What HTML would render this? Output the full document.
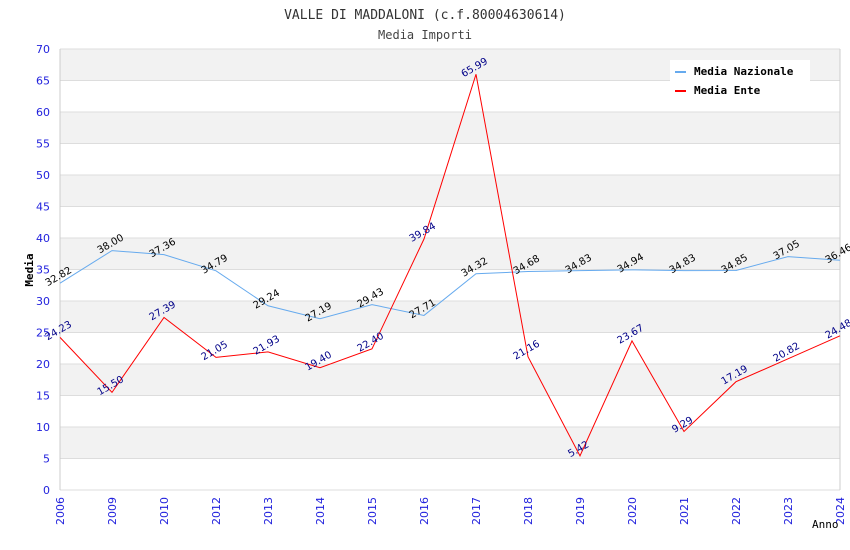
<!DOCTYPE html>
<html><head><meta charset="utf-8"><style>
body{margin:0;background:#fff;}
svg{display:block;font-family:"DejaVu Sans Mono","Liberation Mono",monospace;}
.t{font-family:"DejaVu Sans","Liberation Sans",sans-serif;font-size:11px;}
.v{font-family:"DejaVu Sans","Liberation Sans",sans-serif;font-size:10px;}
</style></head><body>
<svg id="c" width="850" height="550">
<text x="425" y="19" text-anchor="middle" font-size="13" fill="#333">VALLE DI MADDALONI (c.f.80004630614)</text>
<text x="425" y="39" text-anchor="middle" font-size="12" fill="#444">Media Importi</text>
<g id="grid"></g>
<g id="axes"></g>
<g id="series"></g>
<text x="33" y="270" transform="rotate(-90 33 270)" text-anchor="middle" font-size="11" font-weight="bold" fill="#000">Media</text>
<text x="812" y="528" font-size="11" fill="#000">Anno</text>
<g>
<rect x="670" y="60" width="140" height="42" fill="#fff"/>
<g><rect x="675" y="71" width="11" height="2" fill="#66aaee"/><text x="694" y="75" font-size="11" font-weight="bold">Media Nazionale</text></g>
<g><rect x="675" y="90" width="11" height="2" fill="#ff0000"/><text x="694" y="94" font-size="11" font-weight="bold">Media Ente</text></g>
</g>
</svg>
<script>
const years=["2006","2009","2010","2012","2013","2014","2015","2016","2017","2018","2019","2020","2021","2022","2023","2024"];
const nazionale=[32.82,38.00,37.36,34.79,29.24,27.19,29.43,27.71,34.32,34.68,34.83,34.94,34.83,34.85,37.05,36.46];
const ente=[24.23,15.50,27.39,21.05,21.93,19.40,22.40,39.84,65.99,21.16,5.42,23.67,9.29,17.19,20.82,24.48];
const yTicks=[0,5,10,15,20,25,30,35,40,45,50,55,60,65,70];
const X0=60,X1=840,Y0=490,Y1=49,YMAX=70;
const NS="http://www.w3.org/2000/svg";
const x=i=>X0+i*(X1-X0)/(years.length-1);
const y=v=>Y0-v*(Y0-Y1)/YMAX;
function mk(tag,attrs,parent){const e=document.createElementNS(NS,tag);for(const k in attrs)e.setAttribute(k,attrs[k]);parent.appendChild(e);return e;}
const grid=document.getElementById('grid'),axes=document.getElementById('axes'),ser=document.getElementById('series');
for(let i=0;i<yTicks.length-1;i++){
 if((yTicks.length-2-i)%2===0){const r=mk('rect',{x:X0,y:y(yTicks[i+1]),width:X1-X0,height:y(yTicks[i])-y(yTicks[i+1]),fill:'#f2f2f2'},grid);
 
 }
}
yTicks.forEach(v=>{
 const l=mk('line',{x1:X0,x2:X1,y1:y(v),y2:y(v),stroke:'#dddddd'},grid);
 
 
 const t=mk('text',{x:50,y:y(v)+4,'text-anchor':'end',fill:'#2222dd',class:'t'},axes);t.textContent=v;
 
 
});
mk('line',{x1:X0,x2:X0,y1:Y1,y2:Y0,stroke:'#ccc'},axes);
mk('line',{x1:X1,x2:X1,y1:Y1,y2:Y0,stroke:'#ccc'},axes);
years.forEach((yr,i)=>{
 const t=mk('text',{x:x(i)+4,y:497,'text-anchor':'end',fill:'#2222dd',class:'t',transform:`rotate(-90 ${x(i)+4} 497)`},axes);t.textContent=yr;
 
 
});
function line(data,color,lc,name){
 const p=mk('polyline',{points:data.map((v,i)=>x(i)+','+y(v)).join(' '),fill:'none',stroke:color,'stroke-width':1},ser);
 
 
 data.forEach((v,i)=>{
  const px=x(i),py=y(v)-4;
  const t=mk('text',{x:px,y:py,'text-anchor':'middle',fill:lc,class:'v',transform:`rotate(-30 ${px} ${py})`},ser);
  t.textContent=v.toFixed(2);
  
  
 });
}
line(nazionale,'#66aaee','#000','line-media-nazionale');
line(ente,'#ff0000','#000088','line-media-ente');
</script>
</body></html>
